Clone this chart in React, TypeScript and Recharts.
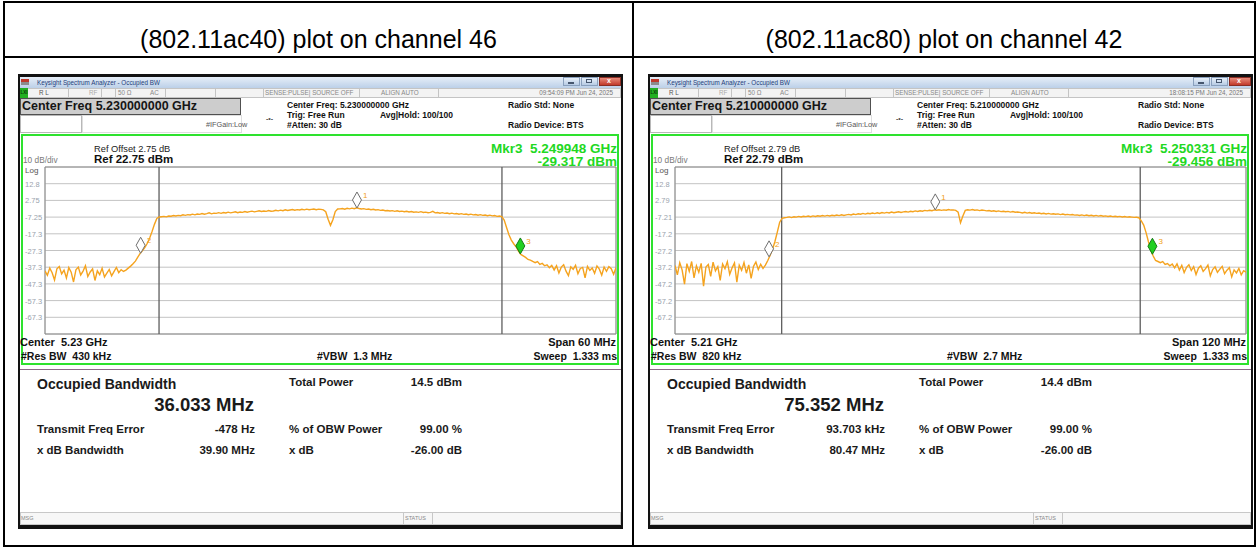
import React from 'react';
import { ComposedChart, Line, Scatter, XAxis, YAxis, CartesianGrid, ReferenceLine, ReferenceArea } from 'recharts';

const FONT = '"Liberation Sans", Arial, Helvetica, sans-serif';

// ---------- data ----------
const titles = ['(802.11ac40) plot on channel 46', '(802.11ac80) plot on channel 42'];

// 40 MHz trace, span 60 MHz (offset from centre, MHz), dBm
const trace40 = [
  -39.5, -42.1, -37.8, -40.6, -44.9, -38.2, -36.9, -41.3, -39.0, -43.7, -37.5, -40.2, -46.1, -38.8, -37.2, -41.9, -39.6,
  -36.4, -42.8, -40.1, -38.3, -45.2, -39.4, -41.7, -37.9, -43.1, -40.8, -38.6, -42.4, -39.9, -37.4, -40.5, -38.7, -39.8,
  -39.0, -37.8, -36.6, -35.2, -33.6, -31.2, -29.0, -27.3, -25.4, -22.9, -19.8, -15.9, -11.6, -8.1, -7.2,
  -7.0, -6.8, -7.1, -6.6, -6.7, -6.3, -6.6, -6.2, -6.4, -5.9, -6.2, -5.8, -6.0, -5.5, -5.9, -5.4, -5.6, -5.1, -5.5, -5.2,
  -4.7, -5.3, -4.9, -5.0,
  -4.6, -5.0, -4.5, -4.8, -4.3, -4.7, -4.4, -4.1, -4.6, -4.2, -4.4, -3.9, -4.3, -4.0, -3.7, -4.1, -3.8, -3.5, -3.9, -3.6,
  -3.8, -3.3, -3.7, -3.6,
  -3.2, -3.5, -3.1, -3.4, -2.9, -3.3, -3.0, -2.7, -3.1, -2.8, -3.0, -2.6, -2.9, -2.5, -2.8, -2.6, -2.4, -2.8, -2.5, -2.6, -2.9,
  -4.0, -8.5, -12.2, -8.8, -3.9, -2.4,
  -2.3, -2.1, -2.5, -2.0, -2.3, -1.9, -2.2, -1.7, -2.1, -2.4, -2.2, -2.6, -2.4, -2.8, -2.6, -3.0, -2.8, -3.2, -3.0, -3.4,
  -3.3, -3.6, -3.4, -3.8, -3.5, -3.9, -3.7, -4.0, -3.8, -4.2, -3.9, -4.3, -4.1, -4.4, -4.0, -4.5, -4.3, -4.6, -4.4, -3.8,
  -4.7, -4.5, -4.9, -4.6, -5.0, -4.8, -5.2, -4.9, -5.3, -5.1, -5.5, -5.2, -5.6, -5.4, -5.8, -5.5, -5.9, -5.7, -6.1, -5.8,
  -6.2, -6.0, -6.4, -6.1, -6.5, -6.3, -6.8, -6.6, -7.0,
  -9.0, -13.5, -17.8, -21.0, -23.2, -25.0, -27.6, -29.6, -30.5, -31.4, -32.6, -33.0, -33.8, -34.5, -33.9, -35.6, -35.0,
  -36.4, -35.8, -37.5, -36.2,
  -38.9, -36.4, -40.7, -37.2, -35.8, -39.6, -42.3, -37.0, -38.5, -36.1, -41.2, -38.0, -37.4, -43.6, -36.8, -39.2, -37.7,
  -40.9, -36.5, -38.4, -42.0, -37.1, -39.7, -36.9, -38.2, -41.5, -37.6,
];

// 80 MHz trace, span 120 MHz
const trace80 = [
  -36.2, -41.8, -34.5, -38.9, -47.3, -35.1, -39.7, -33.8, -43.6, -36.4, -40.2, -34.9, -48.5, -37.1, -35.6, -42.7, -34.2,
  -39.4, -36.8, -45.1, -35.3, -38.1, -33.9, -41.5, -37.6, -34.7, -46.2, -36.0, -39.1, -34.4, -40.8, -35.8, -43.9, -36.7,
  -34.1, -38.6, -35.4, -37.9,
  -36.0, -33.2, -30.1, -26.4, -21.8, -16.2, -10.3, -7.9, -7.6,
  -7.4, -7.1, -7.5, -7.0, -7.2, -6.8, -7.1, -6.7, -6.9, -6.6, -7.0, -6.5, -6.8, -6.4, -6.7, -6.3, -6.6, -6.2, -6.5, -6.1,
  -6.4, -6.0, -6.3, -5.8, -6.2, -5.9,
  -5.6, -5.9, -5.4, -5.7, -5.2, -5.5, -5.0, -5.4, -4.9, -5.2, -4.8, -5.1, -4.6, -5.0, -4.5, -4.8, -4.4, -4.7, -4.2, -4.6,
  -4.3, -4.0, -4.4, -4.1,
  -3.9, -4.2, -3.7, -4.0, -3.5, -3.8, -3.4, -3.7, -3.2, -3.5, -3.1, -3.4, -2.9, -3.1,
  -2.8, -3.2, -2.9, -3.1, -2.7, -3.0, -2.9, -3.2, -4.2,
  -10.6, -6.5,
  -3.2, -2.8, -3.0, -2.7, -3.1, -2.9, -3.3, -3.0, -3.2,
  -3.5, -3.3, -3.7, -3.4, -3.8, -3.5, -3.9, -3.7, -4.0, -3.8, -4.2, -3.9, -4.3, -4.2,
  -4.4, -4.7, -4.3, -4.8, -4.5, -4.9, -4.6, -5.0, -4.8, -5.2, -4.9, -5.3, -5.0, -5.4, -5.2, -5.5, -5.3, -5.7, -5.4, -5.8,
  -5.6, -5.9, -5.7, -6.0,
  -5.9, -6.2, -5.9, -6.3, -6.0, -6.4, -6.1, -6.5, -6.2, -6.6, -6.3, -6.7, -6.5, -6.8, -6.6, -6.9, -6.7, -7.0, -6.8, -7.1,
  -6.9, -7.2, -7.0, -7.2,
  -7.4, -7.3, -7.6,
  -9.5, -12.0, -16.5, -22.0, -27.0, -30.5, -33.2, -33.8, -34.5, -33.9, -35.6, -35.0, -36.4, -35.3,
  -37.6, -35.2, -38.9, -36.1, -40.4, -37.3, -35.8, -39.2, -36.9, -41.6, -37.8, -36.3, -39.7, -38.1, -35.9, -42.4, -38.6,
  -37.0, -40.3, -38.4, -36.7, -41.1, -39.0, -37.5, -43.0, -38.8, -40.6, -37.9, -41.8, -39.3, -40.2,
];

const xTicks40 = [-30, -24, -18, -12, -6, 0, 6, 12, 18, 24, 30];
const xTicks80 = [-60, -48, -36, -24, -12, 0, 12, 24, 36, 48, 60];
const yTicks40 = [22.75, 12.75, 2.75, -7.25, -17.25, -27.25, -37.25, -47.25, -57.25, -67.25, -77.25];
const yTicks80 = [22.79, 12.79, 2.79, -7.21, -17.21, -27.21, -37.21, -47.21, -57.21, -67.21, -77.21];
const yLabels40 = ['12.8', '2.75', '-7.25', '-17.3', '-27.3', '-37.3', '-47.3', '-57.3', '-67.3'];
const yLabels80 = ['12.8', '2.79', '-7.21', '-17.2', '-27.2', '-37.2', '-47.2', '-57.2', '-67.2'];

const markers40 = [
  { id: '1', f: 2.78, v: -1.8, active: false },
  { id: '2', f: -19.95, v: -28.9, active: false },
  { id: '3', f: 19.948, v: -29.317, active: true },
];
const markers80 = [
  { id: '1', f: -5.3, v: -2.9, active: false },
  { id: '2', f: -40.235, v: -31.0, active: false },
  { id: '3', f: 40.331, v: -29.456, active: true },
];
const obw40 = [-18.017, 18.016];
const obw80 = [-37.582, 37.770];

const header40 = ['Center Freq 5.230000000 GHz', 'Center Freq: 5.230000000 GHz', '09:54:09 PM Jun 24, 2025', 'Ref Offset 2.75 dB', 'Ref 22.75 dBm', 'Mkr3  5.249948 GHz', '-29.317 dBm'];
const header80 = ['Center Freq 5.210000000 GHz', 'Center Freq: 5.210000000 GHz', '18:08:15 PM Jun 24, 2025', 'Ref Offset 2.79 dB', 'Ref 22.79 dBm', 'Mkr3  5.250331 GHz', '-29.456 dBm'];
const footer40 = ['Center  5.23 GHz', 'Span 60 MHz', '#Res BW  430 kHz', '#VBW  1.3 MHz', 'Sweep  1.333 ms'];
const footer80 = ['Center  5.21 GHz', 'Span 120 MHz', '#Res BW  820 kHz', '#VBW  2.7 MHz', 'Sweep  1.333 ms'];
const results40 = ['36.033 MHz', '14.5 dBm', '-478 Hz', '99.00 %', '39.90 MHz', '-26.00 dB'];
const results80 = ['75.352 MHz', '14.4 dBm', '93.703 kHz', '99.00 %', '80.47 MHz', '-26.00 dB'];

const spans = [60, 120];

// ---------- helpers ----------
type TP = { x: number; y: number; s: number; b?: boolean; c?: string; r?: boolean; children: React.ReactNode };
const T = ({ x, y, s, b, c, r, children }: TP) => {
  const st: React.CSSProperties = {
    position: 'absolute',
    top: y - 0.6 * s,
    fontSize: s,
    lineHeight: `${1.2 * s}px`,
    fontWeight: b ? 'bold' : 'normal',
    color: c || '#111',
    whiteSpace: 'pre',
    fontFamily: FONT,
  };
  if (r) {
    st.left = x - 400;
    st.width = 400;
    st.textAlign = 'right';
  } else st.left = x;
  return <div style={st}>{children}</div>;
};

const Box = (p: { x: number; y: number; w: number; h: number; bg?: string; bd?: string; extra?: React.CSSProperties }) => (
  <div
    style={{
      position: 'absolute',
      left: p.x,
      top: p.y,
      width: p.w,
      height: p.h,
      background: p.bg || 'transparent',
      border: p.bd,
      boxSizing: 'border-box',
      ...p.extra,
    }}
  />
);

const renderDiamond = (p: any) => {
  const { cx, cy, payload } = p;
  if (cx == null || cy == null) return <g />;
  const h = 16;
  const w = 4.5;
  const a = payload.active;
  return (
    <g>
      <polygon
        points={`${cx},${cy} ${cx + w},${cy - h / 2} ${cx},${cy - h} ${cx - w},${cy - h / 2}`}
        fill={a ? '#21d021' : '#ffffff'}
        stroke={a ? '#157a15' : '#6f6f6f'}
        strokeWidth={1}
      />
      <text x={cx + 6} y={cy - h + 6} fontSize={8} fill="#f0a020" fontFamily={FONT}>
        {payload.id}
      </text>
    </g>
  );
};

type PanelProps = {
  ox: number;
  trace: number[];
  span: number;
  xTicks: number[];
  yTicks: number[];
  yLabels: string[];
  markers: { id: string; f: number; v: number; active: boolean }[];
  obw: number[];
  header: string[];
  footer: string[];
  results: string[];
};

const Panel = ({ ox, trace, span, xTicks, yTicks, yLabels, markers, obw, header, footer, results }: PanelProps) => {
  const data = trace.map((v, i) => ({ f: -span / 2 + (i * span) / (trace.length - 1), v }));
  const yMax = yTicks[0];
  const yMin = yTicks[yTicks.length - 1];
  const YTick = (p: any) => {
    const idx = yTicks.indexOf(p.payload.value);
    if (idx < 1 || idx > 9) return <g />;
    return (
      <text x={p.x - 20} y={p.y} dy={3} fontSize={7.5} fill="#9aa3ad" fontFamily={FONT} textAnchor="start">
        {yLabels[idx - 1]}
      </text>
    );
  };
  const cellLines = [68, 101, 115, 165, 215, 263, 359, 438];
  return (
    <div style={{ position: 'absolute', left: ox, top: 0, width: 630, height: 548 }}>
      {/* frame */}
      <Box x={18} y={74} w={605} h={455} bg="#121212" />
      <Box x={20} y={77} w={601} h={448} bg="#ffffff" />
      {/* title bar */}
      <Box x={20} y={77} w={601} h={11} extra={{ background: 'linear-gradient(#e6eef8, #bcd0e8)' }} />
      <Box x={21} y={79} w={8} h={3} bg="#c0392b" />
      <Box x={21} y={82} w={8} h={3} bg="#8c8c8c" />
      <T x={37} y={82.5} s={6.3} c="#24407a">Keysight Spectrum Analyzer - Occupied BW</T>
      <Box x={563} y={77} w={17} h={9} bd="1px solid #8aa0bd" extra={{ background: 'linear-gradient(#e8f0fa, #b7cbe4)' }} />
      <Box x={581} y={77} w={17} h={9} bd="1px solid #8aa0bd" extra={{ background: 'linear-gradient(#e8f0fa, #b7cbe4)' }} />
      <Box x={599} y={77} w={22} h={9} bd="1px solid #8a2e24" extra={{ background: 'linear-gradient(#e88a7a, #c23a2a)' }} />
      <Box x={568} y={82} w={6} h={1.5} bg="#46566e" />
      <Box x={586} y={79} w={6} h={4} bd="1px solid #46566e" />
      <T x={607} y={81.5} s={7} b c="#ffffff">x</T>
      {/* status row */}
      <Box x={20} y={88} w={601} h={10} bg="#f3f3f3" bd="1px solid #c4c4c4" />
      {cellLines.map((cx) => (
        <Box key={cx} x={cx} y={88} w={1} h={10} bg="#c4c4c4" />
      ))}
      <Box x={20} y={88} w={8} h={10} bg="#22b022" />
      <T x={20.5} y={93} s={4.5} b c="#0a3a0a">LXI</T>
      <T x={39} y={93} s={6.3} c="#555">R L</T>
      <T x={89} y={93} s={6.3} c="#aaa">RF</T>
      <T x={118} y={93} s={6.3} c="#888">50 Ω</T>
      <T x={150} y={93} s={6.3} c="#888">AC</T>
      <T x={265} y={93} s={6.3} c="#888">SENSE:PULSE| SOURCE OFF</T>
      <T x={381} y={93} s={6.3} c="#888">ALIGN AUTO</T>
      <T x={613} y={93} s={6.3} c="#777" r>{header[2]}</T>
      {/* centre freq box */}
      <Box x={20} y={98} w={221} h={17} bg="#cdcdcd" bd="1px solid #505050" />
      <T x={22} y={106.5} s={12.5} b c="#151515">{header[0]}</T>
      <Box x={20} y={115} w={62} h={18} bg="#ffffff" bd="1px solid #b8b8b8" />
      <Box x={82} y={115} w={160} h={18} bg="#ffffff" bd="1px solid #dedede" />
      <T x={206} y={125.5} s={7.3} c="#555">#IFGain:Low</T>
      <T x={266} y={119.5} s={7} b c="#555">-•-</T>
      <T x={287} y={105} s={8.5} b>{header[1]}</T>
      <T x={287} y={115} s={8.5} b>Trig: Free Run</T>
      <T x={287} y={125} s={8.5} b>#Atten: 30 dB</T>
      <T x={380} y={115} s={8.5} b>Avg|Hold: 100/100</T>
      <T x={508} y={105} s={8.5} b>Radio Std: None</T>
      <T x={508} y={125} s={8.5} b>Radio Device: BTS</T>
      {/* green plot frame */}
      <Box x={21} y={134} w={598} h={231} bd="2px solid #2ee22e" />
      <T x={94} y={150} s={9.3} c="#222">{header[3]}</T>
      <T x={23} y={161} s={8.3} c="#7a7a7a">10 dB/div</T>
      <T x={94} y={160} s={11.5} b>{header[4]}</T>
      <T x={25} y={171} s={8} c="#555">Log</T>
      <T x={617} y={149.5} s={13.5} b c="#22d822" r>{header[5]}</T>
      <T x={617} y={162.5} s={13.5} b c="#22d822" r>{header[6]}</T>
      {/* chart */}
      <div style={{ position: 'absolute', left: 20, top: 160, width: 600, height: 180 }}>
        <ComposedChart width={600} height={180} margin={{ top: 7, right: 4, bottom: 6, left: 0 }}>
          <CartesianGrid stroke="#c3c3c3" strokeWidth={1} />
          <XAxis
            dataKey="f"
            type="number"
            domain={[-span / 2, span / 2]}
            ticks={xTicks}
            interval={0}
            tick={false}
            tickLine={false}
            axisLine={false}
            height={0}
            allowDataOverflow
          />
          <YAxis
            dataKey="v"
            type="number"
            domain={[yMin, yMax]}
            ticks={yTicks}
            interval={0}
            tick={YTick}
            tickLine={false}
            axisLine={false}
            tickSize={0}
            tickMargin={0}
            width={25}
            allowDataOverflow
          />
          <ReferenceArea x1={-span / 2} x2={span / 2} y1={yMin} y2={yMax} fill="none" stroke="#8a8a8a" strokeWidth={1} />
          {obw.map((f) => (
            <ReferenceLine key={f} x={f} stroke="#5e5e5e" strokeWidth={1.3} />
          ))}
          <Line
            data={data}
            dataKey="v"
            type="linear"
            stroke="#f5a31e"
            strokeWidth={1.4}
            dot={false}
            isAnimationActive={false}
          />
          <Scatter data={markers} shape={renderDiamond} isAnimationActive={false} />
        </ComposedChart>
      </div>
      <T x={20} y={343} s={11} b>{footer[0]}</T>
      <T x={616} y={343} s={11} b r>{footer[1]}</T>
      <T x={21} y={356} s={10.5} b>{footer[2]}</T>
      <T x={317} y={356} s={10.5} b>{footer[3]}</T>
      <T x={617} y={356} s={10.5} b r>{footer[4]}</T>
      {/* result area */}
      <Box x={20} y={369} w={601} h={1} bg="#8c6a88" />
      <T x={37} y={384.5} s={14} b c="#1a1a1a">Occupied Bandwidth</T>
      <T x={254} y={405} s={18.5} b c="#1a1a1a" r>{results[0]}</T>
      <T x={289} y={382.5} s={11.5} b c="#1a1a1a">Total Power</T>
      <T x={462} y={382.5} s={11.5} b c="#1a1a1a" r>{results[1]}</T>
      <T x={37} y={430} s={11.5} b c="#1a1a1a">Transmit Freq Error</T>
      <T x={255} y={430} s={11.5} b c="#1a1a1a" r>{results[2]}</T>
      <T x={289} y={430} s={11.5} b c="#1a1a1a">% of OBW Power</T>
      <T x={462} y={430} s={11.5} b c="#1a1a1a" r>{results[3]}</T>
      <T x={37} y={450.5} s={11.5} b c="#1a1a1a">x dB Bandwidth</T>
      <T x={255} y={450.5} s={11.5} b c="#1a1a1a" r>{results[4]}</T>
      <T x={289} y={450.5} s={11.5} b c="#1a1a1a">x dB</T>
      <T x={462} y={450.5} s={11.5} b c="#1a1a1a" r>{results[5]}</T>
      {/* status bar */}
      <Box x={20} y={512} w={601} h={13} bg="#f7f7f7" bd="1px solid #c8c8c8" />
      <Box x={403} y={512} w={1} h={13} bg="#c8c8c8" />
      <Box x={432} y={512} w={1} h={13} bg="#c8c8c8" />
      <T x={21} y={518.5} s={5.5} c="#888">MSG</T>
      <T x={405} y={518.5} s={5.5} c="#888">STATUS</T>
    </div>
  );
};

export default function App() {
  const line = (x: number, y: number, w: number, h: number) => (
    <div style={{ position: 'absolute', left: x, top: y, width: w, height: h, background: '#000' }} />
  );
  return (
    <div style={{ position: 'absolute', left: 0, top: 0, width: 1258, height: 548, background: '#fff', overflow: 'hidden', fontFamily: FONT }}>
      {line(3, 1, 1253, 2)}
      {line(3, 56, 1253, 2)}
      {line(3, 545, 1253, 2)}
      {line(3, 1, 2, 546)}
      {line(632, 1, 2, 546)}
      {line(1254, 1, 2, 546)}
      <div style={{ position: 'absolute', left: 5, top: 24, width: 627, textAlign: 'center', fontSize: 25, lineHeight: '30px', color: '#000', fontFamily: FONT }}>
        {titles[0]}
      </div>
      <div style={{ position: 'absolute', left: 634, top: 24, width: 620, textAlign: 'center', fontSize: 25, lineHeight: '30px', color: '#000', fontFamily: FONT }}>
        {titles[1]}
      </div>
      <Panel
        ox={0}
        trace={trace40}
        span={spans[0]}
        xTicks={xTicks40}
        yTicks={yTicks40}
        yLabels={yLabels40}
        markers={markers40}
        obw={obw40}
        header={header40}
        footer={footer40}
        results={results40}
      />
      <Panel
        ox={630}
        trace={trace80}
        span={spans[1]}
        xTicks={xTicks80}
        yTicks={yTicks80}
        yLabels={yLabels80}
        markers={markers80}
        obw={obw80}
        header={header80}
        footer={footer80}
        results={results80}
      />
    </div>
  );
}
